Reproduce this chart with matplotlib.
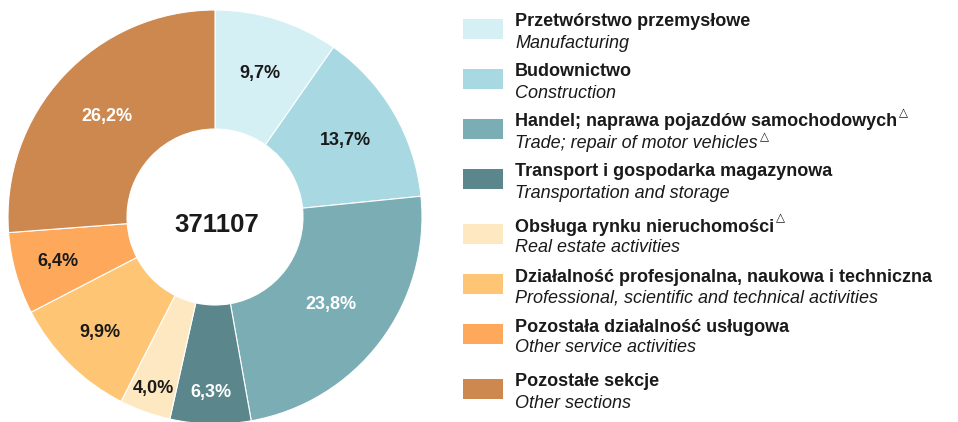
import numpy as np
import matplotlib
matplotlib.use("Agg")
import matplotlib.pyplot as plt
from matplotlib.patches import Rectangle

# ---- data ----
categories_pl = [
    "Przetwórstwo przemysłowe",
    "Budownictwo",
    "Handel; naprawa pojazdów samochodowych",
    "Transport i gospodarka magazynowa",
    "Obsługa rynku nieruchomości",
    "Działalność profesjonalna, naukowa i techniczna",
    "Pozostała działalność usługowa",
    "Pozostałe sekcje",
]
categories_en = [
    "Manufacturing",
    "Construction",
    "Trade; repair of motor vehicles",
    "Transportation and storage",
    "Real estate activities",
    "Professional, scientific and technical activities",
    "Other service activities",
    "Other sections",
]
delta_pl = [False, False, True, False, True, False, False, False]
delta_en = [False, False, True, False, False, False, False, False]
shares = [9.7, 13.7, 23.8, 6.3, 4.0, 9.9, 6.4, 26.2]
total = 371107

# ---- style ----
colors = ["#D4F0F4", "#A8D9E2", "#7BADB5", "#5A868C",
          "#FEE8C1", "#FEC674", "#FDA85B", "#CC884F"]
label_colors = ["#1a1a1a", "#1a1a1a", "white", "white",
                "#1a1a1a", "#1a1a1a", "#1a1a1a", "white"]
label_r = [0.727, 0.73, 0.70, 0.85, 0.88, 0.79, 0.79, 0.713]
legend_y = [29, 79, 129, 179, 234, 284, 334, 389]

W, H = 958, 422
fig = plt.figure(figsize=(W / 100, H / 100), dpi=100)
fig.patch.set_facecolor("white")

FONT = ["Liberation Sans", "DejaVu Sans"]
plt.rcParams["font.family"] = FONT

cx, cy, R = 215, 217, 207
ax = fig.add_axes([(cx - R) / W, (H - cy - R) / H, 2 * R / W, 2 * R / H])
ax.axis("off")

inner = 88 / R
wedges, _ = ax.pie(shares, colors=colors, startangle=90, counterclock=False,
                   radius=1.0,
                   wedgeprops=dict(width=1 - inner, edgecolor="white", linewidth=0.8))
for w in wedges:
    w.set_clip_on(False)
ax.set_xlim(-1, 1)
ax.set_ylim(-1, 1)
ax.set_aspect("equal")

cum = np.cumsum([0] + shares[:-1])
for i, s in enumerate(shares):
    mid = (cum[i] + s / 2) / 100.0 * 2 * np.pi
    x = label_r[i] * np.sin(mid)
    y = label_r[i] * np.cos(mid)
    ax.text(x, y, f"{s:.1f}".replace(".", ",") + "%", ha="center", va="center",
            fontsize=13, fontweight="bold", color=label_colors[i])

ax.text(0.01, -0.072, f"{total}", ha="center", va="baseline",
        fontsize=18.5, fontweight="bold", color="#1a1a1a")

# ---- legend ----
def fx(px):
    return px / W

def fy(py):
    return 1 - py / H

LFS = 13.0
fig.canvas.draw()
renderer = fig.canvas.get_renderer()
for i in range(len(categories_pl)):
    yc = legend_y[i]
    rect = Rectangle((fx(463), fy(yc + 10)), 40 / W, 20 / H,
                     transform=fig.transFigure, facecolor=colors[i],
                     edgecolor="none")
    fig.patches.append(rect)
    t1 = fig.text(fx(515), fy(yc - 2.5), categories_pl[i], fontsize=LFS,
                  fontweight="bold", color="#1a1a1a", va="baseline", ha="left")
    t2 = fig.text(fx(515), fy(yc + 18.5), categories_en[i], fontsize=LFS,
                  style="italic", color="#1a1a1a", va="baseline", ha="left")
    for flag, t, yb, rise in ((delta_pl[i], t1, yc - 2.5, 10),
                              (delta_en[i], t2, yc + 18.5, 7.5)):
        if flag:
            bb = t.get_window_extent(renderer)
            fig.text(bb.x1 / W + 2 / W, fy(yb - rise), "△", fontsize=8.5,
                     family=["DejaVu Sans"], color="#1a1a1a", va="baseline", ha="left")

fig.savefig("out.png", dpi=100, facecolor="white")
